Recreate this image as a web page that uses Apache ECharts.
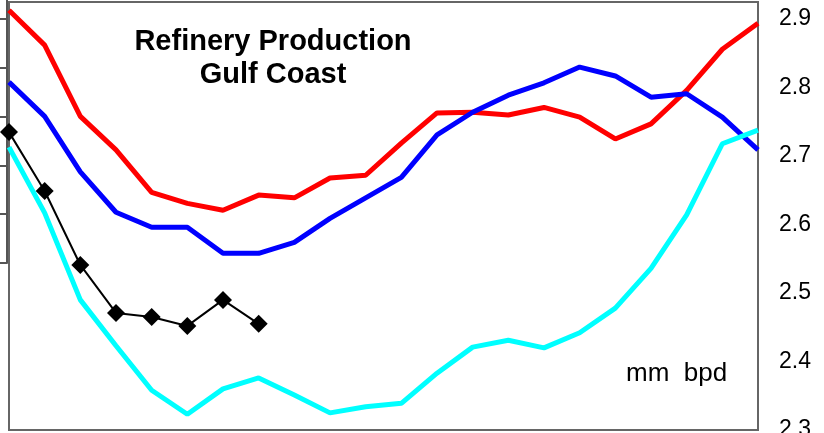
<!DOCTYPE html>
<html><head><meta charset="utf-8">
<script src="https://cdn.jsdelivr.net/npm/echarts@6/dist/echarts.min.js"></script>
<style>html,body{margin:0;padding:0;background:#fff}#c{width:824px;height:433px}</style>
</head><body><div id="c"></div>
<script>
const categories = ['1','2','3','4','5','6','7','8','9','10','11','12','13','14','15','16','17','18','19','20','21','22'];
const redSeries  = [2.913,2.862,2.758,2.709,2.647,2.631,2.621,2.643,2.639,2.668,2.672,2.719,2.763,2.764,2.760,2.771,2.757,2.725,2.747,2.796,2.856,2.894];
const blueSeries = [2.808,2.758,2.677,2.618,2.596,2.596,2.558,2.558,2.574,2.609,2.639,2.669,2.731,2.764,2.789,2.807,2.830,2.817,2.786,2.791,2.757,2.709];
const cyanSeries = [2.713,2.617,2.490,2.423,2.358,2.323,2.360,2.376,2.351,2.325,2.334,2.339,2.383,2.421,2.431,2.420,2.442,2.478,2.536,2.614,2.718,2.738];
const blackSeries= [2.735,2.649,2.541,2.471,2.465,2.452,2.490,2.455];
const yTicks = [2.3, 2.9, 0.1]; // min, last label, interval
const font = '"Liberation Sans", Arial, sans-serif';

const chart = echarts.init(document.getElementById('c'), null, {renderer:'canvas'});
chart.setOption({
  animation:false,
  backgroundColor:'#fff',
  title:{
    text:'Refinery Production\nGulf Coast',
    left:273, top:25, textAlign:'center', padding:0,
    textStyle:{fontFamily:font, fontWeight:'bold', fontSize:29, lineHeight:33, color:'#000'}
  },
  graphic:[{
    type:'text', left:626, top:361,
    style:{text:'mm  bpd', font:'26px ' + font, fill:'#000'}
  }],
  grid:[
    {left:9, top:2, width:749, height:428, show:true, borderColor:'#666', borderWidth:2, backgroundColor:'transparent', outerBoundsMode:'none', containLabel:false},
    {left:7, top:-30, width:1, height:293, show:false, outerBoundsMode:'none', containLabel:false}
  ],
  xAxis:[
    {type:'category', data:categories, boundaryGap:false, gridIndex:0, show:false},
    {type:'category', data:['a'], gridIndex:1, show:false}
  ],
  yAxis:[
    {type:'value', gridIndex:0, position:'right', min:yTicks[0], max:2.925, interval:yTicks[2],
     splitLine:{show:false}, axisLine:{show:false}, axisTick:{show:false},
     axisLabel:{margin:21, fontFamily:font, fontSize:23, color:'#000', hideOverlap:false,
       formatter:v => (v > yTicks[1] + 1e-6) ? '' : v.toFixed(1)}},
    {type:'value', gridIndex:1, position:'left', min:0, max:6, interval:1,
     splitLine:{show:false}, axisLine:{show:true, lineStyle:{color:'#555', width:2}},
     axisTick:{show:true, length:7, lineStyle:{color:'#555', width:2}},
     axisLabel:{show:false}}
  ],
  series:[
    {type:'line', data:redSeries, xAxisIndex:0, yAxisIndex:0, symbol:'none', lineStyle:{color:'#ff0000', width:5}},
    {type:'line', data:blueSeries, xAxisIndex:0, yAxisIndex:0, symbol:'none', lineStyle:{color:'#0000ff', width:5}},
    {type:'line', data:cyanSeries, xAxisIndex:0, yAxisIndex:0, symbol:'none', lineStyle:{color:'#00ffff', width:5}},
    {type:'line', data:blackSeries, xAxisIndex:0, yAxisIndex:0, symbol:'diamond', symbolSize:18, itemStyle:{color:'#000'}, lineStyle:{color:'#000', width:2}},
    {type:'line', data:[], xAxisIndex:1, yAxisIndex:1}
  ]
});
</script></body></html>
